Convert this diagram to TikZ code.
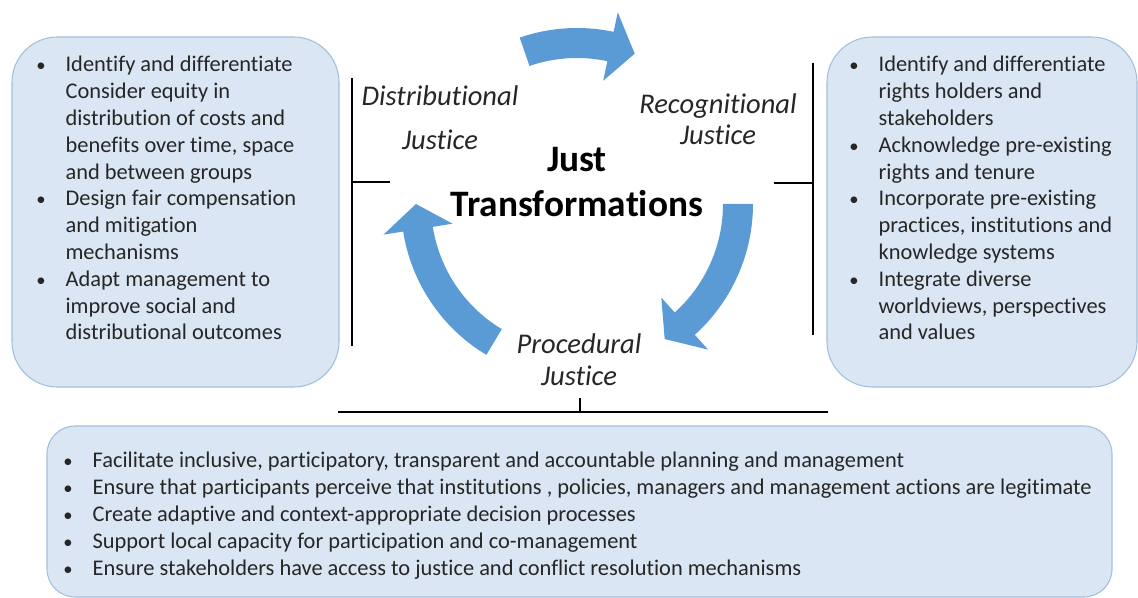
\documentclass[tikz,border=0pt]{standalone}
\usepackage{fontspec}
\setmainfont{Carlito}[Ligatures=NoCommon]
\usepackage{xcolor}
\usepackage{tikz}

\definecolor{panelfill}{HTML}{DAE6F3}
\definecolor{panelline}{HTML}{A3BEDD}
\definecolor{cyclecol}{HTML}{5B9BD5}
\definecolor{txt}{HTML}{262626}

\newcommand{\bul}{\makebox[22pt][l]{{\fontsize{14}{14}\selectfont •}}}
\newcommand{\ind}{\hspace*{22pt}}

\begin{document}
\begin{tikzpicture}[x=0.75pt, y=0.75pt,
        panel/.style={draw=panelline, fill=panelfill, line width=0.8pt},
        points/.style={anchor=north west, inner sep=0pt, align=left, text=txt, font=\fontsize{16.8}{20.1}\selectfont},
        pillar/.style={inner sep=0pt, align=center, text=txt, font=\itshape\fontsize{21.4}{#1}\selectfont},
        title/.style={inner sep=0pt, align=center, font=\bfseries\fontsize{28}{33.8}\selectfont},
        bracket/.style={line width=1.5pt},
        cycle/.style={fill=cyclecol}
    ]
        \useasboundingbox (0,0) rectangle (1138,-598);

        % the three panels
        \draw[panel, rounded corners=34pt] (12,-37) rectangle (339,-387);
        \draw[panel, rounded corners=34pt] (827,-37) rectangle (1137,-387);
        \draw[panel, rounded corners=21pt] (47,-426) rectangle (1112,-597);

        % brackets
        \draw[bracket] (352,-78) -- (352,-346);
        \draw[bracket] (352,-182) -- (390,-182);
        \draw[bracket] (813,-63) -- (813,-335);
        \draw[bracket] (774,-183) -- (813,-183);
        \draw[bracket] (338,-412) -- (828,-412);
        \draw[bracket] (580,-398) -- (580,-412);

        % cycle arrows around the centre
        \begin{scope}[shift={(577,-204)}]
            \fill[cycle] (109:176) arc[start angle=109, end angle=78, radius=176] -- (78:196) -- (69:161)
                -- (78:126) -- (78:146) arc[start angle=78, end angle=109, radius=146] -- cycle;
            \fill[cycle] (0:176) arc[start angle=0, end angle=-48, radius=176] -- (-48:196) -- (-57:161)
                -- (-48:126) -- (-48:146) arc[start angle=-48, end angle=0, radius=146] -- cycle;
            \fill[cycle] (239:176) arc[start angle=239, end angle=189, radius=176] -- (189:196) -- (180:161)
                -- (189:126) -- (189:146) arc[start angle=189, end angle=239, radius=146] -- cycle;
        \end{scope}

        \node[title] (just) at (577,-182) {Just\\Transformations};
        \node[pillar=33] (distr) at (440,-118) {Distributional\\Justice};
        \node[pillar=23.3] (recog) at (718,-119) {Recognitional\\Justice};
        \node[pillar=24] (proc) at (579,-360) {Procedural\\Justice};

        \node[points] (distrlist) at (36,-56) {%
            \bul Identify and differentiate\\
            \ind Consider equity in\\
            \ind distribution of costs and\\
            \ind benefits over time, space\\
            \ind and between groups\\
            \bul Design fair compensation\\
            \ind and mitigation\\
            \ind mechanisms\\
            \bul Adapt management to\\
            \ind improve social and\\
            \ind distributional outcomes};

        \node[points] (recoglist) at (849,-56) {%
            \bul Identify and differentiate\\
            \ind rights holders and\\
            \ind stakeholders\\
            \bul Acknowledge pre-existing\\
            \ind rights and tenure\\
            \bul Incorporate pre-existing\\
            \ind practices, institutions and\\
            \ind knowledge systems\\
            \bul Integrate diverse\\
            \ind worldviews, perspectives\\
            \ind and values};

        \node[points] (proclist) at (63,-452) {%
            \bul Facilitate inclusive, participatory, transparent and accountable planning and management\\
            \bul Ensure that participants perceive that institutions , policies, managers and management actions are legitimate\\
            \bul Create adaptive and context-appropriate decision processes\\
            \bul Support local capacity for participation and co-management\\
            \bul Ensure stakeholders have access to justice and conflict resolution mechanisms};
    \end{tikzpicture}
\end{document}
